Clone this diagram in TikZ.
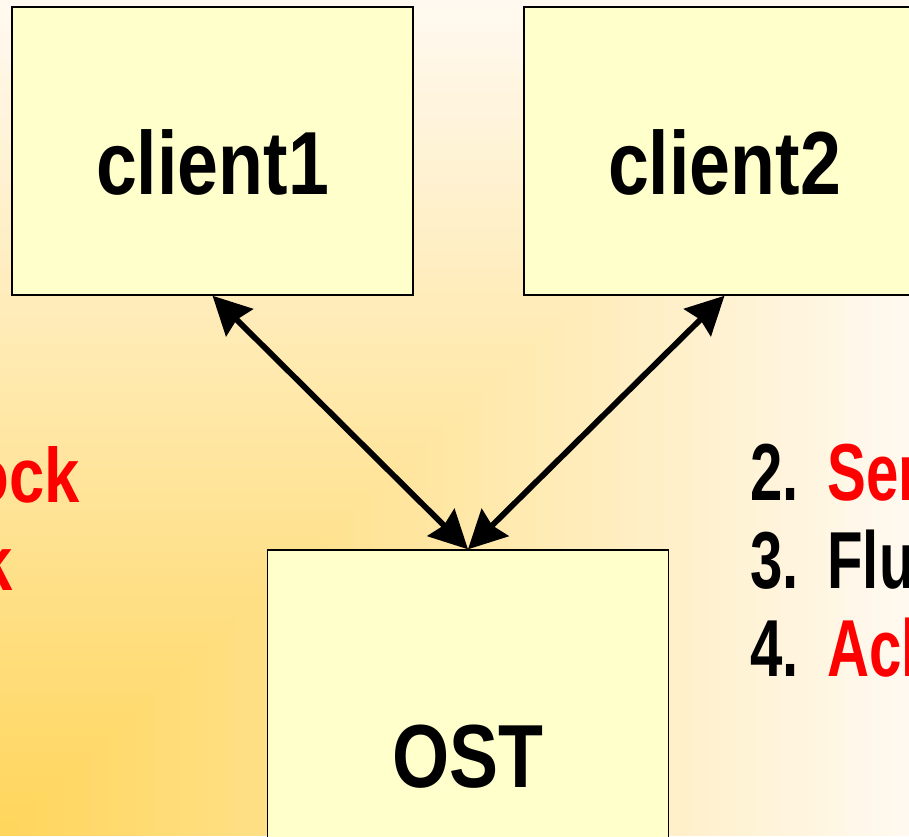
\documentclass[tikz,border=0pt]{standalone}
\usepackage{fontspec}
\setsansfont{Liberation Sans}[FakeStretch=0.82]
\newfontfamily\stepfont{Liberation Sans}[FakeStretch=0.72]
\usetikzlibrary{arrows.meta}
\definecolor{boxfill}{HTML}{FFFFCC}
\definecolor{bgwarm}{HTML}{FFD55A}
\definecolor{bgpale}{HTML}{FFF9F0}
\definecolor{stepred}{HTML}{FF0000}
\newcommand{\stepgap}{\hspace{0.14cm}}
\tikzset{
pcbox/.style={draw=black, line width=0.85pt, fill=boxfill,
  minimum width=8.02cm, minimum height=5.76cm, inner sep=0pt,
  text height=1.74cm, text depth=0pt,
  font=\sffamily\bfseries\fontsize{51}{60}\selectfont},
steptext/.style={anchor=base west, inner sep=0pt,
  font=\stepfont\bfseries\fontsize{46}{55}\selectfont},
sidetext/.style={anchor=base east, inner sep=0pt, text=stepred,
  font=\sffamily\bfseries\fontsize{44}{53}\selectfont},
link/.style={line width=3.3pt, <->,
  >={Stealth[length=0.76cm,width=0.76cm,inset=0.08cm]}}
}
\begin{document}
\begin{tikzpicture}[x=0.02cm, y=-0.02cm]
  \useasboundingbox (0,0) rectangle (909,836);
  \clip (0,0) rectangle (909,836);
  % background, from the lower left corner
  \foreach \i in {100,99,...,1}
    \fill[bgpale!\i!bgwarm] (0,836) rectangle ({9.09*\i},{836-8.36*\i});
  % boxes
  \node[pcbox] (client1) at (212.5,151) {client1};
  \node[pcbox] (client2) at (724.5,151) {client2};
  \node[pcbox, minimum height=7.74cm] (ost) at (468,743.5) {OST};
  \draw[link] (client1.south) -- (ost.north);
  \draw[link] (client2.south) -- (ost.north);
  % steps
  \node[sidetext] (lock) at (80,502) {ock};
  \node[sidetext] (ack1) at (13,590) {k};
  \node[steptext] (send) at (750,500) {2.\stepgap{} \textcolor{stepred}{Sen}};
  \node[steptext] (flush) at (750,588) {3.\stepgap{} Flu};
  \node[steptext] (ack2) at (750,676) {4.\stepgap{} \textcolor{stepred}{Ack}};
\end{tikzpicture}
\end{document}
